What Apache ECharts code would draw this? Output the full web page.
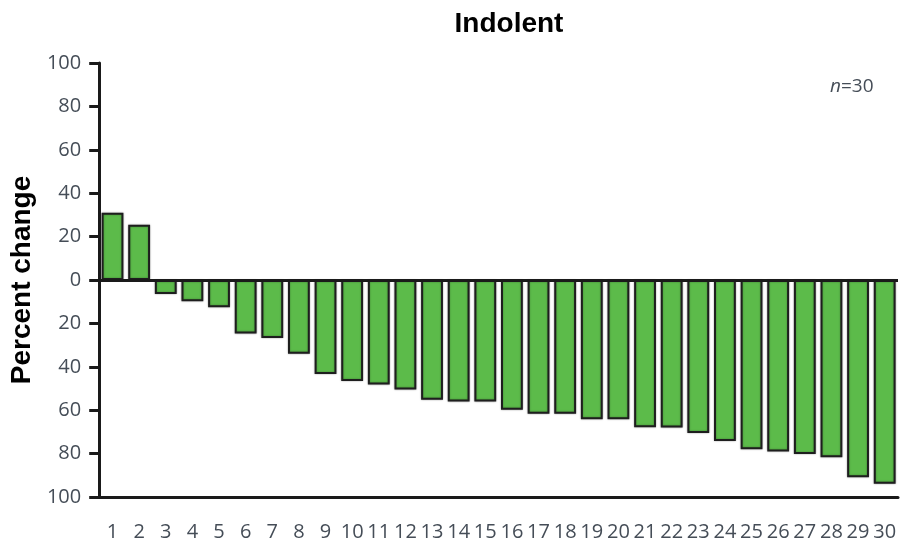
<!DOCTYPE html>
<html><head><meta charset="utf-8">
<script src="https://cdn.jsdelivr.net/npm/echarts@6/dist/echarts.min.js"></script>
<style>html,body{margin:0;padding:0;background:#fff}#c{width:900px;height:545px}</style>
</head><body><div id="c"></div>
<script>
const categories = ['1','2','3','4','5','6','7','8','9','10','11','12','13','14','15','16','17','18','19','20','21','22','23','24','25','26','27','28','29','30'];
const values = [31, 25.5, -6.4, -9.8, -12.6, -24.7, -26.7, -34, -43.3, -46.6, -48.2, -50.5, -55.2, -56, -56, -59.8, -61.6, -61.6, -64.2, -64.2, -67.9, -68, -70.5, -74.2, -78, -79, -80.2, -81.7, -90.9, -93.9];
const yTicks = [-100, 100, 20];
const chart = echarts.init(document.getElementById('c'), null, {renderer:'canvas'});
const labelFont = '"Open Sans", sans-serif';
chart.setOption({
  animation:false,
  title:{text:'Indolent', left:504, top:5, textAlign:'center',
    textStyle:{fontFamily:'Liberation Sans, Arial, sans-serif', fontWeight:'bold', fontSize:28, color:'#000'}},
  graphic:[{type:'text', left:830, top:77, style:{
    text:'{i|n}{r|=30}', rich:{i:{fontStyle:'italic', fontFamily:labelFont, fontSize:19, fill:'#454d57'}, r:{fontFamily:labelFont, fontSize:19, fill:'#454d57'}}}}],
  grid:{left:98, right:2, top:63, bottom:48},
  xAxis:{type:'category', data:categories,
    axisLine:{onZero:false, lineStyle:{color:'#1a1a1a', width:3}},
    axisTick:{alignWithLabel:true, length:10, lineStyle:{color:'#1a1a1a', width:3}},
    axisLabel:{color:'#454d57', fontFamily:labelFont, fontSize:20, margin:25, interval:0}},
  yAxis:{type:'value', min:yTicks[0], max:yTicks[1], interval:yTicks[2],
    name:'Percent change', nameLocation:'middle', nameGap:60, nameRotate:90,
    nameTextStyle:{fontFamily:'Liberation Sans, Arial, sans-serif', fontWeight:'bold', fontSize:28, color:'#000'},
    splitLine:{show:false},
    axisLine:{show:true, lineStyle:{color:'#1a1a1a', width:3}},
    axisTick:{show:true, length:10, lineStyle:{color:'#1a1a1a', width:3}},
    axisLabel:{color:'#454d57', fontFamily:labelFont, fontSize:20, margin:18, formatter:v=>String(Math.abs(v))}},
  series:[{type:'bar', data:values, barWidth:'82%',
    itemStyle:{color:'#5cbb4a', borderColor:'#1e1e1e', borderWidth:2, shadowColor:'rgba(0,0,0,0.35)', shadowBlur:2},
    markLine:{silent:true, symbol:'none', label:{show:false}, lineStyle:{color:'#1a1a1a', width:3, type:'solid'}, data:[{yAxis:0}]}
  }]
});
</script></body></html>
